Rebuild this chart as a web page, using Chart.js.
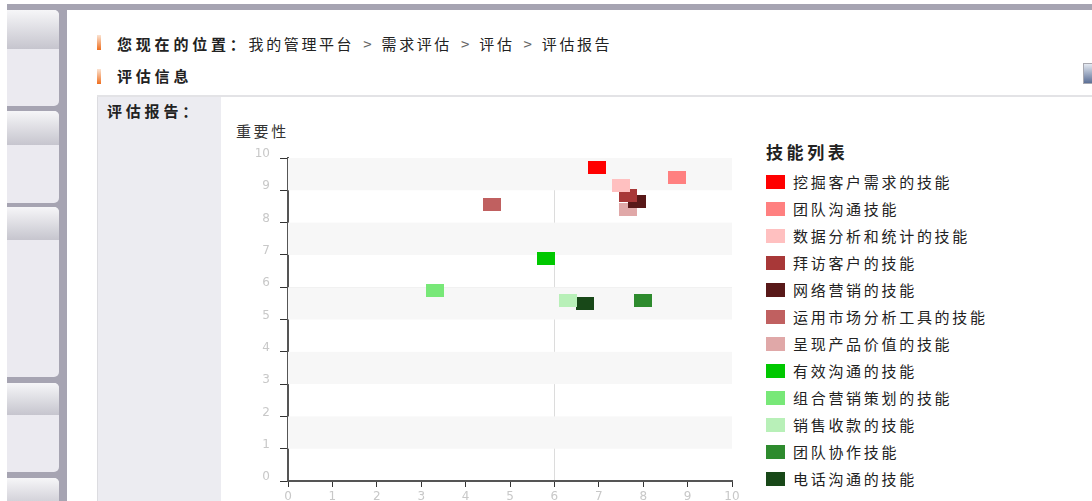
<!DOCTYPE html>
<html>
<head>
<meta charset="utf-8">
<script src="https://cdn.jsdelivr.net/npm/chart.js@4/dist/chart.umd.min.js"></script>
<style>
  html, body { margin: 0; padding: 0; width: 1092px; height: 501px; overflow: hidden; background: #fff;
    font-family: "Noto Sans CJK SC", "Noto Sans", sans-serif; color: #222; }
  .abs { position: absolute; }
  #side { left: 7px; top: 4px; width: 60px; height: 497px; background: #a6a4b2; }
  #topbar { left: 7px; top: 4px; width: 1085px; height: 6px; background: #a6a4b2; }
  .tab { position: absolute; left: 7px; width: 52px; background: #ebeaf0; border-radius: 0 5px 5px 0; overflow: hidden; }
  .tab .hd { height: 38px; background: linear-gradient(#f6f6f8, #c6c5ce); }
  #main { left: 67px; top: 10px; width: 1025px; height: 491px; background: #fff; border-top-left-radius: 8px; }
  .mark { position: absolute; left: 97px; width: 4px; height: 15px; background: linear-gradient(#fbe3d2, #ef6f1f); }
  .txt { position: absolute; font-size: 15px; line-height: 16px; white-space: nowrap; letter-spacing: 2.6px; }
  .txt b { font-weight: 700; letter-spacing: 3.8px; }
  .gt { color: #666; margin: 0 10px 0 9px; letter-spacing: 0; }
  #rule { left: 97px; top: 95px; width: 995px; height: 2px; background: #e3e3e6; }
  #cell { left: 97px; top: 97px; width: 123px; height: 404px; background: #ececf1; border-left: 1px solid #dcdce0; }
  #btn { left: 1083px; top: 63px; width: 12px; height: 19px; border: 1px solid #a8a8b0; background: linear-gradient(#e4e9f1, #5b6f96); }
  #chartBox { left: 220px; top: 97px; width: 540px; height: 430px; }
  #legend { left: 766px; top: 141px; }
  #legend .title { font-size: 17px; font-weight: 700; line-height: 22px; margin-bottom: 5px; letter-spacing: 3.6px; }
  #legend .item { height: 27px; display: flex; align-items: center; font-size: 15px; letter-spacing: 2.7px; }
  #legend .sw { width: 19px; height: 14px; margin-right: 8px; }
</style>
</head>
<body>
<div id="side" class="abs"></div>
<div id="topbar" class="abs"></div>
<div class="tab" style="top:10px;height:96px"><div class="hd" style="height:39px"></div></div>
<div class="tab" style="top:111px;height:92px"><div class="hd" style="height:34px"></div></div>
<div class="tab" style="top:207px;height:170px"><div class="hd" style="height:33px"></div></div>
<div class="tab" style="top:383px;height:89px"><div class="hd" style="height:32px"></div></div>
<div class="tab" style="top:478px;height:40px"><div class="hd" style="height:32px"></div></div>
<div id="main" class="abs"></div>
<div class="mark" style="top:35px"></div>
<div class="txt" style="left:117px;top:36px"><b>您现在的位置：</b>我的管理平台<span class="gt">&gt;</span>需求评估<span class="gt">&gt;</span>评估<span class="gt">&gt;</span>评估报告</div>
<div class="mark" style="top:69px"></div>
<div class="txt" style="left:117px;top:68px"><b>评估信息</b></div>
<div id="btn" class="abs"></div>
<div id="rule" class="abs"></div>
<div id="cell" class="abs"></div>
<div class="txt" style="left:107px;top:103px"><b>评估报告：</b></div>
<div class="txt" style="left:236px;top:123px;color:#333">重要性</div>
<div id="chartBox" class="abs"><canvas id="chartSkills"></canvas></div>
<div id="legend" class="abs"></div>

<script>
// Datos del gráfico
const skills = ['挖掘客户需求的技能', '团队沟通技能', '数据分析和统计的技能', '拜访客户的技能',
  '网络营销的技能', '运用市场分析工具的技能', '呈现产品价值的技能', '有效沟通的技能',
  '组合营销策划的技能', '销售收款的技能', '团队协作技能', '电话沟通的技能'];
const xValues = [6.95, 8.75, 7.5, 7.65, 7.85, 4.6, 7.65, 5.8, 3.3, 6.3, 8.0, 6.7];
const yValues = [9.7, 9.4, 9.15, 8.85, 8.65, 8.55, 8.4, 6.9, 5.9, 5.6, 5.6, 5.5];
const colors = ['#ff0000', '#ff8080', '#ffc0c0', '#a83838', '#581818', '#c06060',
  '#e0a8a8', '#00c800', '#78e878', '#b8f0b8', '#2e8b2e', '#184818'];
const axisTicks = [0, 1, 2, 3, 4, 5, 6, 7, 8, 9, 10];
const refValue = 6;

// Marcador rectangular para cada punto
const crearMarcador = (color) => {
  const c = document.createElement('canvas');
  c.width = 18; c.height = 13;
  const g = c.getContext('2d');
  g.fillStyle = color;
  g.fillRect(0, 0, 18, 13);
  return c;
};

// Franjas alternas del fondo
const bandas = {
  id: 'bandas',
  beforeDatasetsDraw(chart) {
    const { ctx, chartArea, scales } = chart;
    ctx.save();
    ctx.fillStyle = '#f7f7f7';
    for (let v = 1; v < 10; v += 2) {
      const top = scales.y.getPixelForValue(v + 1);
      const bot = scales.y.getPixelForValue(v);
      ctx.fillRect(chartArea.left, top, chartArea.right - chartArea.left, bot - top);
    }
    ctx.restore();
  }
};

const gridColor = (ctx) => (ctx.tick && ctx.tick.value === refValue ? '#dcdcdc' : 'rgba(0,0,0,0)');
const tickFont = { family: 'DejaVu Sans', size: 12 };

const ctxSk = document.getElementById('chartSkills').getContext('2d');
new Chart(ctxSk, {
  type: 'scatter',
  data: {
    datasets: skills.map((s, i) => ({
      label: s,
      data: [{ x: xValues[i], y: yValues[i] }],
      pointStyle: crearMarcador(colors[i]),
      backgroundColor: colors[i]
    }))
  },
  options: {
    responsive: true,
    maintainAspectRatio: false,
    animation: false,
    layout: { padding: { left: 0, top: 61, right: 28, bottom: 0 } },
    plugins: { legend: { display: false }, tooltip: { enabled: false } },
    scales: {
      x: {
        type: 'linear', min: 0, max: 10,
        afterBuildTicks: (scale) => { scale.ticks = axisTicks.map(v => ({ value: v })); },
        afterFit: (scale) => { scale.height = 46; },
        ticks: { color: '#c8c8c8', font: tickFont, padding: 3 },
        grid: { color: gridColor, tickColor: '#333', tickLength: 6, lineWidth: 1 },
        border: { display: true, color: '#555', width: 2 }
      },
      y: {
        type: 'linear', min: 0, max: 10,
        afterBuildTicks: (scale) => { scale.ticks = axisTicks.map(v => ({ value: v })); },
        afterFit: (scale) => { scale.width = 68; },
        ticks: { color: '#c8c8c8', font: tickFont, padding: 10, labelOffset: -4 },
        grid: { color: gridColor, tickColor: '#333', tickLength: 8, lineWidth: 1 },
        border: { display: true, color: '#555', width: 2 }
      }
    }
  },
  plugins: [bandas]
});

// Leyenda
const legend = document.getElementById('legend');
legend.innerHTML = '<div class="title">技能列表</div>' + skills.map((s, i) =>
  `<div class="item"><span class="sw" style="background:${colors[i]}"></span>${s}</div>`).join('');
</script>
</body>
</html>
